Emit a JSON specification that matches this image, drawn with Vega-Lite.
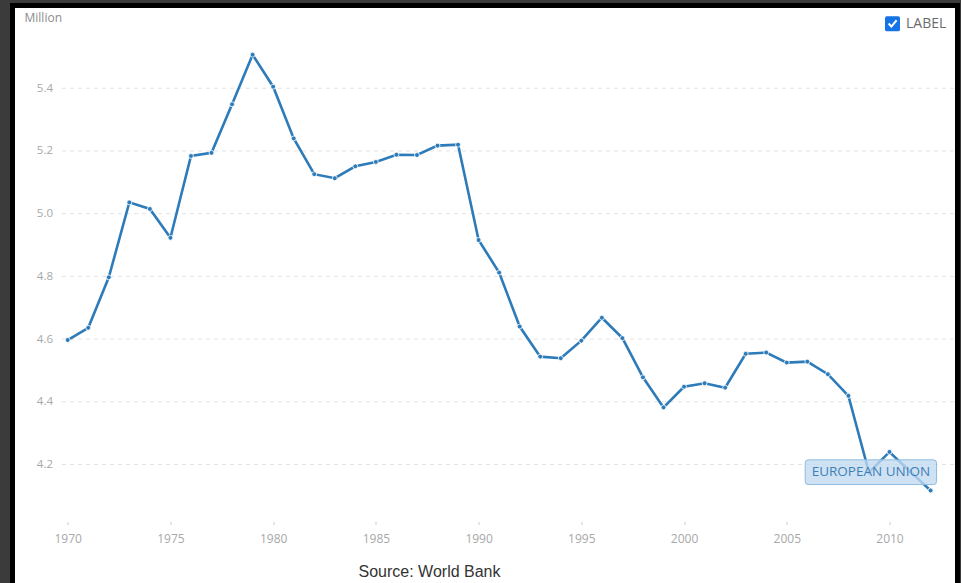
{
  "$schema": "https://vega.github.io/schema/vega-lite/v6.json",
  "width": 945,
  "height": 582.5,
  "autosize": {"type": "none"},
  "padding": {"left": 12.5, "top": 5.5, "right": 3.5, "bottom": -5},
  "background": "#3b3b3b",
  "config": {
    "font": "Open Sans",
    "view": {"fill": "white", "stroke": "black", "strokeWidth": 5}
  },
  "data": {
    "values": [
      {"year": 1970, "value": 4.597},
      {"year": 1971, "value": 4.636},
      {"year": 1972, "value": 4.797},
      {"year": 1973, "value": 5.036},
      {"year": 1974, "value": 5.015},
      {"year": 1975, "value": 4.923},
      {"year": 1976, "value": 5.184},
      {"year": 1977, "value": 5.194},
      {"year": 1978, "value": 5.349},
      {"year": 1979, "value": 5.507},
      {"year": 1980, "value": 5.405},
      {"year": 1981, "value": 5.24},
      {"year": 1982, "value": 5.126},
      {"year": 1983, "value": 5.113},
      {"year": 1984, "value": 5.151},
      {"year": 1985, "value": 5.165},
      {"year": 1986, "value": 5.188},
      {"year": 1987, "value": 5.187},
      {"year": 1988, "value": 5.217},
      {"year": 1989, "value": 5.22},
      {"year": 1990, "value": 4.916},
      {"year": 1991, "value": 4.812},
      {"year": 1992, "value": 4.64},
      {"year": 1993, "value": 4.544},
      {"year": 1994, "value": 4.539},
      {"year": 1995, "value": 4.595},
      {"year": 1996, "value": 4.668},
      {"year": 1997, "value": 4.603},
      {"year": 1998, "value": 4.478},
      {"year": 1999, "value": 4.382},
      {"year": 2000, "value": 4.448},
      {"year": 2001, "value": 4.459},
      {"year": 2002, "value": 4.445},
      {"year": 2003, "value": 4.553},
      {"year": 2004, "value": 4.557},
      {"year": 2005, "value": 4.525},
      {"year": 2006, "value": 4.528},
      {"year": 2007, "value": 4.488},
      {"year": 2008, "value": 4.419},
      {"year": 2009, "value": 4.175},
      {"year": 2010, "value": 4.24},
      {"year": 2011, "value": 4.178},
      {"year": 2012, "value": 4.117}
    ]
  },
  "layer": [
    {
      "data": {"values": [{"tick": 4.2}, {"tick": 4.4}, {"tick": 4.6}, {"tick": 4.8}, {"tick": 5.0}, {"tick": 5.2}, {"tick": 5.4}]},
      "mark": {"type": "rule", "color": "#e2e2e2", "strokeWidth": 1, "strokeDash": [4, 4]},
      "encoding": {
        "y": {"field": "tick", "type": "quantitative", "title": "Million",
              "scale": {"domain": [3.806, 5.664], "nice": false, "zero": false}},
        "x": {"datum": 1969.72, "type": "quantitative", "title": "Source: World Bank",
              "scale": {"domain": [1967.313, 2013.31], "nice": false, "zero": false}},
        "x2": {"datum": 2013.3}
      }
    },
    {
      "mark": {"type": "line", "strokeWidth": 2.6, "interpolate": "linear"},
      "encoding": {
        "x": {
          "field": "year", "type": "quantitative", "title": "Source: World Bank",
          "scale": {"domain": [1967.313, 2013.31], "nice": false, "zero": false},
          "axis": {
            "values": [1970, 1975, 1980, 1985, 1990, 1995, 2000, 2005, 2010],
            "format": "d",
            "offset": -66.5,
            "domain": false,
            "grid": false,
            "ticks": true,
            "tickSize": 3,
            "tickColor": "#cccccc",
            "tickWidth": 1,
            "labelPadding": 8.5,
            "labelFont": "Open Sans",
            "labelFontSize": 12,
            "labelColor": "#a8a8a8",
            "labelFlush": false,
            "labelOverlap": false,
            "titleFont": "Liberation Sans",
            "titleFontSize": 16,
            "titleFontWeight": "normal",
            "titleColor": "#333333",
            "titleAlign": "left",
            "titleBaseline": "alphabetic",
            "titleX": 345.5,
            "titleY": 54.5
          }
        },
        "y": {
          "field": "value", "type": "quantitative", "title": "Million",
          "scale": {"domain": [3.806, 5.664], "nice": false, "zero": false},
          "axis": {
            "values": [4.2, 4.4, 4.6, 4.8, 5.0, 5.2, 5.4],
            "format": ".1f",
            "offset": -40,
            "domain": false,
            "grid": false,
            "ticks": false,
            "tickSize": 0,
            "labelPadding": 0,
            "labelFont": "Open Sans",
            "labelFontSize": 11.5,
            "labelColor": "#a8a8a8",
            "labelFlush": false,
            "labelOverlap": false,
            "titleFont": "Open Sans",
            "titleFontSize": 12,
            "titleFontWeight": "normal",
            "titleColor": "#8c8c8c",
            "titleAngle": 0,
            "titleAlign": "left",
            "titleBaseline": "alphabetic",
            "titleX": -28.5,
            "titleY": 15.5
          }
        },
        "color": {
          "datum": "LABEL",
          "scale": {"range": ["#2d7bb9"]},
          "legend": {
            "orient": "none",
            "legendX": 872.5,
            "legendY": 10.8,
            "title": null,
            "padding": 0,
            "symbolType": "M -0.75,-1 L 0.75,-1 Q 1,-1 1,-0.75 L 1,0.75 Q 1,1 0.75,1 L -0.75,1 Q -1,1 -1,0.75 L -1,-0.75 Q -1,-1 -0.75,-1 Z M -0.62,0.05 L -0.15,0.55 L 0.65,-0.38 L 0.45,-0.56 L -0.15,0.17 L -0.42,-0.13 Z",
            "symbolSize": 225,
            "symbolStrokeWidth": 0,
            "labelFont": "Open Sans",
            "labelFontSize": 14,
            "labelColor": "#6b6b6b",
            "labelOffset": 6,
            "encode": {
              "symbols": {
                "update": {
                  "fill": {"value": "#1473e6"},
                  "stroke": {"value": "transparent"},
                  "strokeWidth": {"value": 0},
                  "opacity": {"value": 1}
                }
              }
            }
          }
        }
      }
    },
    {
      "mark": {"type": "point", "filled": true, "color": "#2d7bb9", "stroke": "white", "strokeWidth": 0.8, "size": 24, "opacity": 1},
      "encoding": {
        "x": {"field": "year", "type": "quantitative", "title": "Source: World Bank",
              "scale": {"domain": [1967.313, 2013.31], "nice": false, "zero": false}},
        "y": {"field": "value", "type": "quantitative", "title": "Million",
              "scale": {"domain": [3.806, 5.664], "nice": false, "zero": false}}
      }
    },
    {
      "transform": [{"filter": "datum.year == 2012"}],
      "mark": {
        "type": "point",
        "filled": true,
        "shape": "M -0.954,-0.188 L 0.954,-0.188 Q 1,-0.188 1,-0.142 L 1,0.142 Q 1,0.188 0.954,0.188 L -0.954,0.188 Q -1,0.188 -1,0.142 L -1,-0.142 Q -1,-0.188 -0.954,-0.188 Z",
        "size": 17266,
        "fill": "#c2daef",
        "fillOpacity": 0.78,
        "stroke": "#8fbbe0",
        "strokeWidth": 1,
        "strokeOpacity": 1,
        "opacity": 1,
        "xOffset": -59.7,
        "yOffset": -18.3
      },
      "encoding": {
        "x": {"field": "year", "type": "quantitative", "title": "Source: World Bank",
              "scale": {"domain": [1967.313, 2013.31], "nice": false, "zero": false}},
        "y": {"field": "value", "type": "quantitative", "title": "Million",
              "scale": {"domain": [3.806, 5.664], "nice": false, "zero": false}}
      }
    },
    {
      "transform": [{"filter": "datum.year == 2012"}],
      "mark": {
        "type": "text",
        "text": "EUROPEAN UNION",
        "font": "Open Sans",
        "fontSize": 13.5,
        "color": "#3f7fb8",
        "align": "center",
        "baseline": "middle",
        "dx": -59.7,
        "dy": -18.3
      },
      "encoding": {
        "x": {"field": "year", "type": "quantitative", "title": "Source: World Bank",
              "scale": {"domain": [1967.313, 2013.31], "nice": false, "zero": false}},
        "y": {"field": "value", "type": "quantitative", "title": "Million",
              "scale": {"domain": [3.806, 5.664], "nice": false, "zero": false}}
      }
    }
  ]
}
